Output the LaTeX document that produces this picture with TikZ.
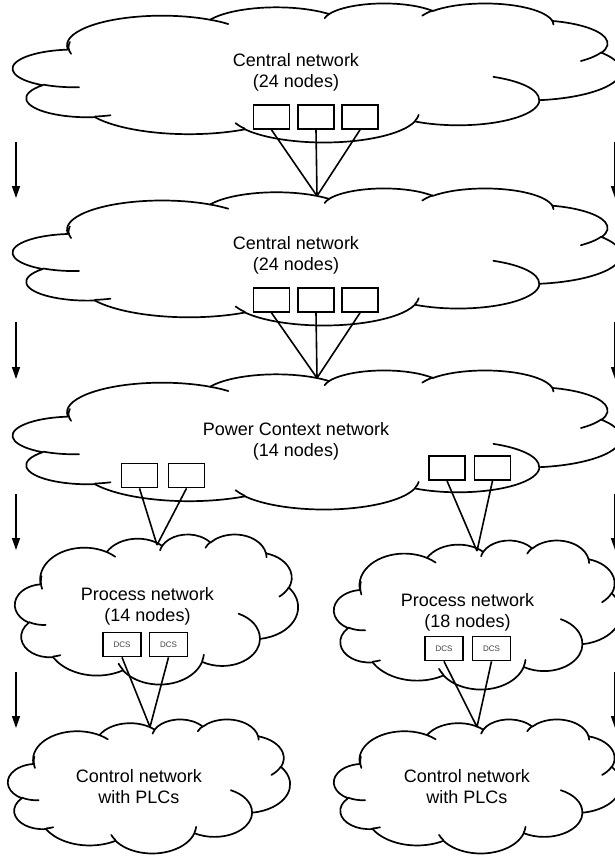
\documentclass[tikz,border=0pt]{standalone}
\usepackage{fontspec}
\setmainfont{Liberation Sans}
\usetikzlibrary{arrows.meta}

% Arc of an ellipse given by its visual start angle and sweep (degrees);
% stored as an arc style with the matching parametric angles.
\newcommand\cloudarc[5]{%
  \pgfmathsetmacro\caS{#4}%
  \pgfmathsetmacro\caE{#4+#5}%
  \pgfmathsetmacro\caTs{\caS+mod(atan2(#2*sin(\caS),#3*cos(\caS))-\caS+540,360)-180}%
  \pgfmathsetmacro\caTe{\caE+mod(atan2(#2*sin(\caE),#3*cos(\caE))-\caE+540,360)-180}%
  \edef\caDo{\noexpand\tikzset{#1/.style={x radius=#2,y radius=#3,start angle=\caTs,end angle=\caTe}}}%
  \caDo}

% outline lobes
\cloudarc{ca1}{6.753}{9.190}{-190.4875}{123.7805}
\cloudarc{ca2}{5.333}{7.267}{-144.1024}{89.9452}
\cloudarc{ca3}{4.365}{5.945}{-145.8079}{99.7230}
\cloudarc{ca4}{4.857}{6.595}{-130.9861}{117.2417}
\cloudarc{ca5}{5.333}{7.273}{-78.7089}{109.0269}
\cloudarc{ca6}{6.775}{9.220}{-46.2673}{130.2690}
\cloudarc{ca7}{5.785}{7.867}{0.6250}{114.0333}
\cloudarc{ca8}{6.752}{9.215}{22.4516}{115.1726}
\cloudarc{ca9}{7.720}{10.543}{66.2426}{75.7110}
\cloudarc{ca10}{4.360}{5.918}{-274.9421}{146.7356}
\cloudarc{ca11}{4.345}{5.945}{-246.8285}{152.5189}
% inner strokes
\cloudarc{cb1}{4.345}{5.945}{86.7420}{26.4295}
\cloudarc{cb2}{4.360}{5.918}{73.6105}{11.4475}
\cloudarc{cb3}{6.752}{9.215}{137.6242}{14.0811}
\cloudarc{cb4}{6.752}{9.215}{6.4533}{15.9984}
\cloudarc{cb5}{5.785}{7.867}{-70.2924}{70.9174}
\cloudarc{cb6}{5.333}{7.273}{30.3180}{27.7515}
\cloudarc{cb7}{4.857}{6.595}{-13.7443}{14.8589}
\cloudarc{cb8}{4.857}{6.595}{-149.1815}{18.1954}
\cloudarc{cb9}{4.365}{5.945}{-163.4943}{17.6864}
\cloudarc{cb10}{6.753}{9.190}{-66.7070}{12.3194}
\cloudarc{cb11}{6.753}{9.190}{162.0363}{31.0377}

% cloud in a 43.2 x 43.2 frame, placed at left #1, top #2, width #3, height #4
\newcommand\netcloud[4]{%
  \pgfmathsetmacro\cw{#3/43.2}%
  \pgfmathsetmacro\ch{#4/43.2}%
  \begin{scope}[shift={(#1,#2)},x=\cw pt,y=-\ch pt]
    \draw[cloudline,fill=white] (3.900,14.370)
      arc[ca1] arc[ca2] arc[ca3] arc[ca4] arc[ca5] arc[ca6]
      arc[ca7] arc[ca8] arc[ca9] arc[ca10] arc[ca11] -- cycle;
    \draw[cloudline]
      (4.693,26.177) arc[cb1]   (6.928,34.899) arc[cb2]
      (16.478,39.090) arc[cb3]  (28.827,34.751) arc[cb4]
      (34.129,22.954) arc[cb5]  (41.798,15.354) arc[cb6]
      (38.324,5.426) arc[cb7]   (29.078,3.952) arc[cb8]
      (22.141,4.720) arc[cb9]   (14.000,5.192) arc[cb10]
      (4.127,15.789) arc[cb11];
  \end{scope}}

\tikzset{
  cloudline/.style={line width=1.7pt,line join=round,line cap=round},
  netlabel/.style={align=center,font=\fontsize{18}{21}\selectfont,inner sep=0pt},
  hostbox/.style={draw,fill=white,line width=1.7pt,minimum width=36pt,minimum height=24pt,inner sep=0pt},
  dcsbox/.style={draw,fill=white,line width=1.7pt,minimum width=38pt,minimum height=24pt,inner sep=0pt,
    font=\fontsize{8}{9}\selectfont,text=black!75},
  link/.style={line width=1.6pt},
  flow/.style={line width=1.5pt,-{Triangle[length=12pt,width=8pt]}}
}

\begin{document}
\begin{tikzpicture}[x=1pt,y=-1pt]
\clip (0,0) rectangle (615,856);
\fill[white] (0,0) rectangle (615,856);

% clouds
\netcloud{13}{3}{608}{139}
\netcloud{13}{188}{608}{137}
\netcloud{13}{370}{608}{139}
\netcloud{15}{534}{283}{150}
\netcloud{334}{540}{287}{149}
\netcloud{8}{719}{282}{134}
\netcloud{334}{719}{287}{134}

% network labels
\node[netlabel] (t1) at (296,72.5) {Central network\\(24 nodes)};
\node[netlabel] (t2) at (296,255.5) {Central network\\(24 nodes)};
\node[netlabel] (t3) at (296,441) {Power Context network\\(14 nodes)};
\node[netlabel] (t4) at (147.5,606.5) {Process network\\(14 nodes)};
\node[netlabel] (t6) at (467.5,612.5) {Process network\\(18 nodes)};
\node[netlabel] (t5) at (139,786.5) {Control network\\with PLCs};
\node[netlabel] (t7) at (467,786.5) {Control network\\with PLCs};

% gateway boxes
\node[hostbox] (a1) at (271.5,117) {};
\node[hostbox] (a2) at (316,117) {};
\node[hostbox] (a3) at (360,117) {};
\node[hostbox] (b1) at (271.5,300) {};
\node[hostbox] (b2) at (316,300) {};
\node[hostbox] (b3) at (360,300) {};
\node[hostbox] (p1) at (139.5,475.5) {};
\node[hostbox] (p2) at (186.5,475.5) {};
\node[hostbox] (p3) at (447,468) {};
\node[hostbox] (p4) at (492.5,468) {};
\node[dcsbox] (d1) at (122,644.5) {DCS};
\node[dcsbox] (d2) at (168.5,644.5) {DCS};
\node[dcsbox] (d3) at (444,648.5) {DCS};
\node[dcsbox] (d4) at (491.5,648.5) {DCS};

% attachment points on the lower clouds
\coordinate (c2) at (317,196);
\coordinate (c3) at (317,378);
\coordinate (c4) at (157,545);
\coordinate (c6) at (477,551);
\coordinate (c5) at (150,727);
\coordinate (c7) at (477,727);

% links
\draw[link] (a1.south) -- (c2) (a2.south) -- (c2) (a3.south) -- (c2);
\draw[link] (b1.south) -- (c3) (b2.south) -- (c3) (b3.south) -- (c3);
\draw[link] (p1.south) -- (c4) (p2.south) -- (c4);
\draw[link] (p3.south) -- (c6) (p4.south) -- (c6);
\draw[link] (d1.south) -- (c5) (d2.south) -- (c5);
\draw[link] (d3.south) -- (c7) (d4.south) -- (c7);

% level arrows at both margins
\foreach \i/\ys/\ye in {1/142/198, 2/322/379, 3/494/550, 4/672/728} {
  \coordinate (l\i s) at (16,\ys);
  \coordinate (l\i e) at (16,\ye);
  \coordinate (r\i s) at (615,\ys);
  \coordinate (r\i e) at (615,\ye);
  \draw[flow] (l\i s) -- (l\i e);
  \draw[flow] (r\i s) -- (r\i e);
}
\end{tikzpicture}
\end{document}
